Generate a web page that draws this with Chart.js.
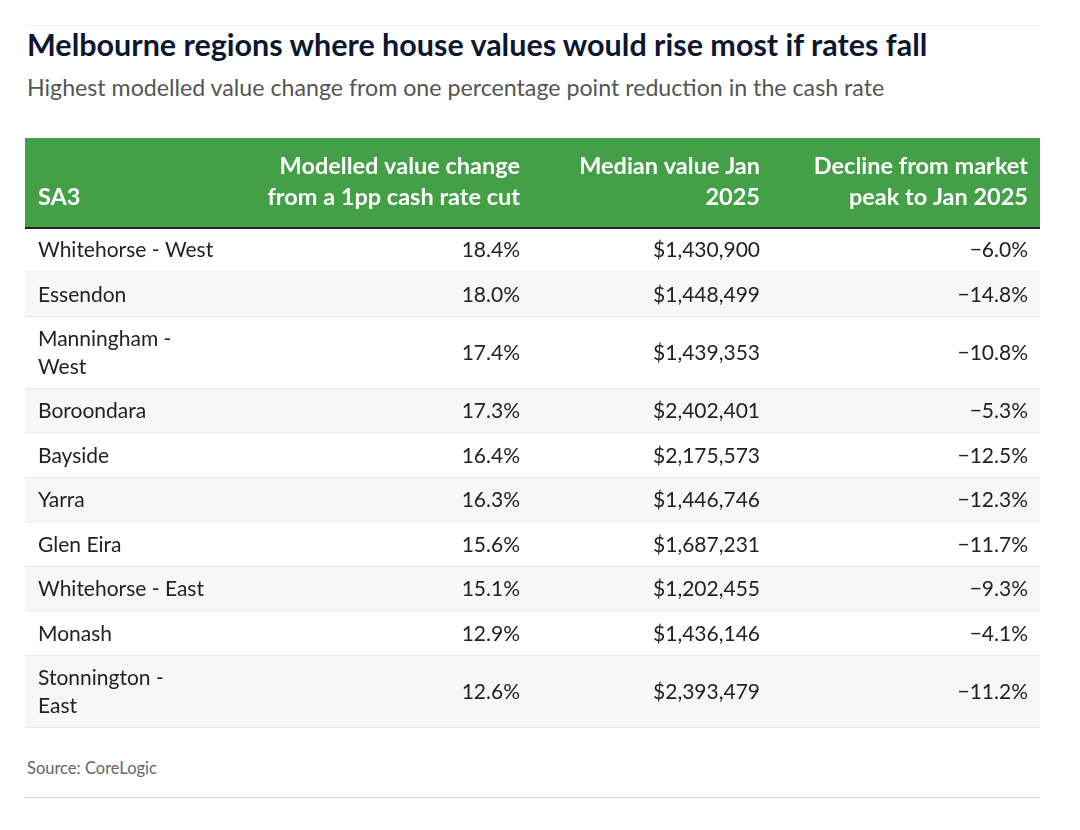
<!DOCTYPE html>
<html>
<head>
<meta charset="utf-8">
<script src="https://cdn.jsdelivr.net/npm/chart.js@4.4.1/dist/chart.umd.min.js"></script>
<style>
  body { margin: 0; background: #fff; font-family: Lato, "Open Sans", sans-serif; }
  .wrap { position: relative; width: 1080px; height: 830px; }
  .rule-top { position: absolute; left: 27px; top: 25px; width: 1013px; height: 1px; background: #eeeeee; }
  h1 { position: absolute; left: 27px; top: 24px; margin: 0; font-size: 30.5px; line-height: 40px; font-weight: 700; color: #0d1730; white-space: nowrap; }
  .sub { position: absolute; left: 27px; top: 72px; margin: 0; font-size: 23.2px; line-height: 30px; color: #555; white-space: nowrap; }
  #table { position: absolute; left: 25px; top: 138px; }
  .source { position: absolute; left: 27px; top: 757px; font-size: 16.5px; line-height: 22px; color: #666; }
  .rule-bottom { position: absolute; left: 25px; top: 797px; width: 1015px; height: 1px; background: #d6d6de; }
</style>
</head>
<body>
<div class="wrap">
  <div class="rule-top"></div>
  <h1>Melbourne regions where house values would rise most if rates fall</h1>
  <p class="sub">Highest modelled value change from one percentage point reduction in the cash rate</p>
  <canvas id="table" width="1015" height="590"></canvas>
  <div class="source">Source: CoreLogic</div>
  <div class="rule-bottom"></div>
</div>
<script>
// data
const headers = ['SA3', 'Modelled value change\nfrom a 1pp cash rate cut', 'Median value Jan\n2025', 'Decline from market\npeak to Jan 2025'];
const regions = ['Whitehorse - West', 'Essendon', 'Manningham -\nWest', 'Boroondara', 'Bayside', 'Yarra', 'Glen Eira', 'Whitehorse - East', 'Monash', 'Stonnington -\nEast'];
const rateCutChange = [18.4, 18.0, 17.4, 17.3, 16.4, 16.3, 15.6, 15.1, 12.9, 12.6];
const medianValue = [1430900, 1448499, 1439353, 2402401, 2175573, 1446746, 1687231, 1202455, 1436146, 2393479];
const declineFromPeak = [-6.0, -14.8, -10.8, -5.3, -12.5, -12.3, -11.7, -9.3, -4.1, -11.2];

// layout (table units = px inside the table)
const colEdges = [0, 250, 507, 747, 1015];
const headerHeight = 90;
const lineHeight = 27.5;
const rowPad = 17;

const fmtPct = v => (v < 0 ? '\u2212' : '') + Math.abs(v).toFixed(1) + '%';
const fmtMoney = v => '$' + v.toLocaleString('en-US');

const rows = regions.map((r, i) => ({
    cells: [r, fmtPct(rateCutChange[i]), fmtMoney(medianValue[i]), fmtPct(declineFromPeak[i])],
    lines: r.split('\n').length
}));
let pos = headerHeight;
rows.forEach(r => { r.top = pos; r.h = rowPad + lineHeight * r.lines; pos += r.h; });
const totalHeight = pos;

const tablePlugin = {
    id: 'tablePlugin',
    beforeDraw(chart) {
        const ctx = chart.ctx;
        const xs = chart.scales.x, ys = chart.scales.y;
        const X = v => xs.getPixelForValue(v);
        const Y = v => ys.getPixelForValue(v);
        ctx.save();

        // header
        ctx.fillStyle = '#43a047';
        ctx.fillRect(X(0), Y(0), X(1015) - X(0), Y(headerHeight) - Y(0));
        ctx.fillStyle = '#fff';
        ctx.font = 'bold 23.5px Lato';
        ctx.textBaseline = 'alphabetic';
        headers.forEach((h, c) => {
            const lines = h.split('\n');
            lines.forEach((t, k) => {
                const y = Y(headerHeight - 23 - (lines.length - 1 - k) * 31);
                if (c === 0) { ctx.textAlign = 'left'; ctx.fillText(t, X(colEdges[0] + 13), y); }
                else { ctx.textAlign = 'right'; ctx.fillText(t, X(colEdges[c + 1] - 12), y); }
            });
        });

        // rows
        rows.forEach((r, i) => {
            ctx.fillStyle = i % 2 ? '#f7f7f7' : '#ffffff';
            ctx.fillRect(X(0), Y(r.top), X(1015) - X(0), Y(r.top + r.h) - Y(r.top));
            ctx.fillStyle = '#e6e6e6';
            ctx.fillRect(X(0), Y(r.top + r.h) - 1, X(1015) - X(0), 1);
            const mid = r.top + r.h / 2;
            ctx.fillStyle = '#222';
            ctx.font = '21px Lato';
            ctx.textBaseline = 'middle';
            r.cells.forEach((t, c) => {
                const lines = t.split('\n');
                lines.forEach((s, k) => {
                    const y = Y(mid + (k - (lines.length - 1) / 2) * lineHeight);
                    if (c === 0) { ctx.textAlign = 'left'; ctx.fillText(s, X(colEdges[0] + 13), y); }
                    else { ctx.textAlign = 'right'; ctx.fillText(s, X(colEdges[c + 1] - 12), y); }
                });
            });
        });

        // header bottom border
        ctx.fillStyle = '#222';
        ctx.fillRect(X(0), Y(headerHeight) - 1, X(1015) - X(0), 2);
        ctx.restore();
    }
};

new Chart(document.getElementById('table'), {
    type: 'scatter',
    data: { datasets: [{ data: [] }] },
    options: {
        responsive: false,
        animation: false,
        events: [],
        layout: { padding: 0 },
        plugins: { legend: { display: false }, tooltip: { enabled: false } },
        scales: {
            x: { type: 'linear', min: 0, max: 1015, display: false },
            y: { type: 'linear', min: 0, max: totalHeight, reverse: true, display: false }
        }
    },
    plugins: [tablePlugin]
});
</script>
</body>
</html>
